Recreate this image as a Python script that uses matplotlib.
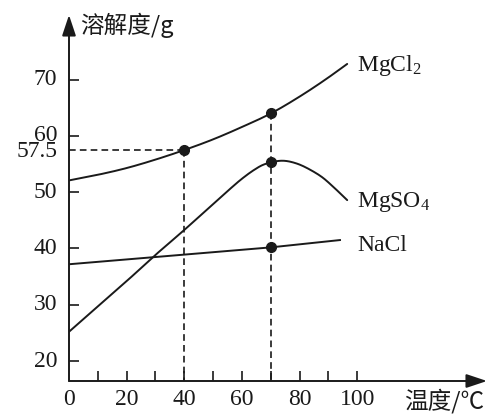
import numpy as np
import matplotlib
matplotlib.use("Agg")
import matplotlib.pyplot as plt

plt.rcParams['mathtext.fontset'] = 'custom'
plt.rcParams['mathtext.rm'] = 'Liberation Serif'
plt.rcParams['mathtext.it'] = 'Liberation Serif'

# data
mgcl2_x = [0, 10, 20, 30, 40, 50, 60, 70, 80, 90, 96.5]
mgcl2_y = [52.1, 53.1, 54.3, 55.8, 57.5, 59.4, 61.6, 64.0, 67.0, 70.4, 72.8]
mgso4_x = [0, 10, 20, 29.2, 40, 50, 55, 60, 64, 67, 70, 74, 79, 84, 88, 92, 96.5]
mgso4_y = [25.2, 29.7, 34.2, 38.5, 43.3, 47.9, 50.2, 52.4, 53.9, 54.8, 55.3, 55.6, 55.1, 53.9, 52.6, 50.8, 48.6]
nacl_x = [0, 70, 94]
nacl_y = [37.2, 40.2, 41.5]
points_x = [40, 70, 70, 70]
points_y = [57.5, 64.0, 55.3, 40.2]
xticks = [0, 20, 40, 60, 80, 100]
yticks = [20, 30, 40, 50, 60, 70]

serif = ['Liberation Serif', 'DejaVu Serif']
cjk = ['Noto Sans CJK SC', 'DejaVu Sans']
ink = '#1a1a1a'

fig = plt.figure(figsize=(4.97, 4.15), dpi=100)
ax = fig.add_axes([69/497, 1-381/415, (487-69)/497, (381-15)/415])
ax.set_xlim(0, 145)
ax.set_ylim(16.45, 81.5)

def smooth(xs, ys, n=300):
    xs = np.asarray(xs, float); ys = np.asarray(ys, float)
    t = np.linspace(xs[0], xs[-1], n)
    m = np.gradient(ys, xs)
    out = np.empty_like(t)
    for k, tv in enumerate(t):
        i = min(np.searchsorted(xs, tv, side='right') - 1, len(xs) - 2)
        h = xs[i+1] - xs[i]
        s = (tv - xs[i]) / h
        h00 = 2*s**3 - 3*s**2 + 1
        h10 = s**3 - 2*s**2 + s
        h01 = -2*s**3 + 3*s**2
        h11 = s**3 - s**2
        out[k] = h00*ys[i] + h10*h*m[i] + h01*ys[i+1] + h11*h*m[i+1]
    return t, out

lw = 1.4
for xs, ys in [(mgcl2_x, mgcl2_y), (mgso4_x, mgso4_y)]:
    tx, ty = smooth(xs, ys)
    ax.plot(tx, ty, color=ink, lw=lw, solid_capstyle='round')
ax.plot(nacl_x, nacl_y, color=ink, lw=lw)

ylo = ax.get_ylim()[0]
dash = (0, (4.0, 2.5))
ax.plot([0, 40], [57.5, 57.5], color=ink, lw=1.2, linestyle=dash)
ax.plot([40, 40], [57.5, ylo], color=ink, lw=1.2, linestyle=dash)
ax.plot([70, 70], [64.0, ylo], color=ink, lw=1.2, linestyle=dash)
ax.plot(points_x, points_y, 'o', color=ink, ms=7, zorder=5)

for s in ['top', 'right', 'left', 'bottom']:
    ax.spines[s].set_visible(False)
ax.annotate('', xy=(1, 0), xytext=(0, 0), xycoords='axes fraction',
            arrowprops=dict(arrowstyle='-|>,head_length=0.9,head_width=0.3', color=ink, lw=1.4,
                            mutation_scale=14, shrinkA=0, shrinkB=0))
ax.annotate('', xy=(0, 1), xytext=(0, 0), xycoords='axes fraction',
            arrowprops=dict(arrowstyle='-|>,head_length=0.9,head_width=0.3', color=ink, lw=1.4,
                            mutation_scale=14, shrinkA=0, shrinkB=0))

ax.set_xticks(range(10, 101, 10))
ax.set_xticklabels([])
ax.set_yticks(yticks)
ax.set_yticklabels([])
ax.tick_params(axis='both', direction='in', length=7, width=1.2, color=ink)

fs = 17
for v in xticks:
    ax.text(v, -0.022, str(v), transform=ax.get_xaxis_transform(),
            ha='center', va='top', fontsize=fs, family=serif, color=ink)
for v in yticks:
    ax.text(-0.028, v, str(v), transform=ax.get_yaxis_transform(),
            ha='right', va='center', fontsize=fs, family=serif, color=ink)
ax.text(-0.028, 57.3, '57.5', transform=ax.get_yaxis_transform(),
        ha='right', va='center', fontsize=fs, family=serif, color=ink)

ax.text(100, 72.6, 'MgCl$_2$', ha='left', va='center', fontsize=fs, family=serif, color=ink)
ax.text(100, 48.3, 'MgSO$_4$', ha='left', va='center', fontsize=fs, family=serif, color=ink)
ax.text(100, 40.6, 'NaCl', ha='left', va='center', fontsize=fs, family=serif, color=ink)

fig.text(80/497, 1-25/415, '溶解度/g', ha='left', va='center', fontsize=17, family=cjk, color=ink)
fig.text(404/497, 1-401/415, '温度/℃', ha='left', va='center', fontsize=17, family=cjk, color=ink)

fig.savefig('out.png', dpi=100)
